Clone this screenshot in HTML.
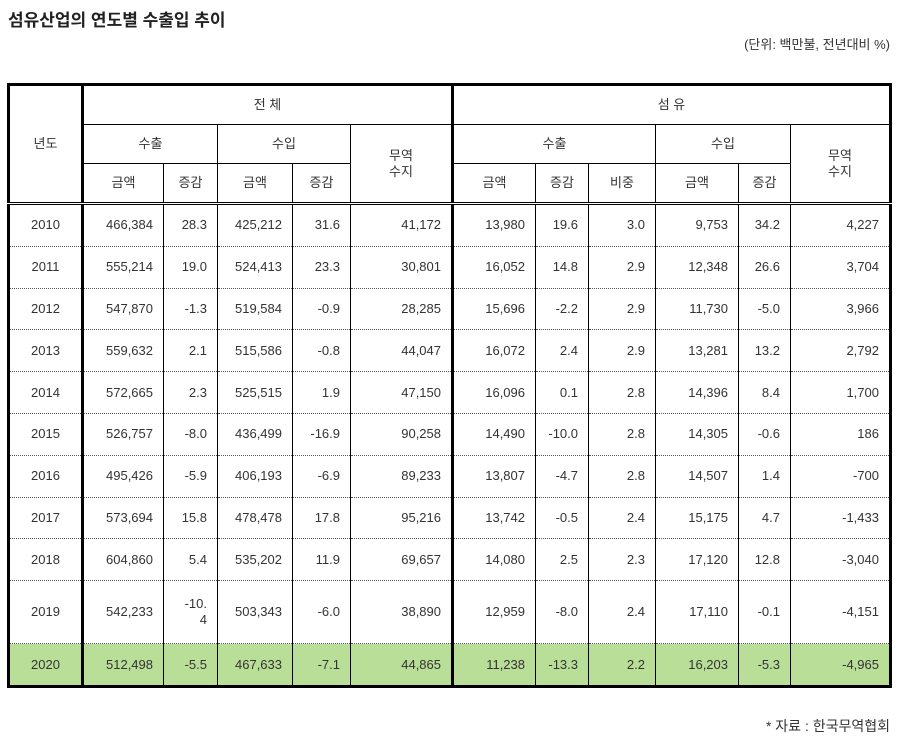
<!DOCTYPE html>
<html><head><meta charset="utf-8"><style>
body{margin:0;background:#fff;width:898px;height:741px;position:relative;font-family:"Liberation Sans","Noto Sans CJK KR",sans-serif;color:#333;}
.title{position:absolute;left:8px;top:6px;font-size:17px;font-weight:bold;color:#222;}
.unit{position:absolute;right:8px;top:34px;font-size:13px;}
.src{position:absolute;right:8px;top:716px;font-size:14px;}
table{position:absolute;left:7px;top:83px;border-collapse:collapse;table-layout:fixed;font-size:13px;}
td{border:1px solid #000;padding:0;text-align:center;line-height:16px;}
thead td{height:38px;}
tbody td{border-top:1px dotted #555;border-bottom:1px dotted #555;text-align:right;padding-right:10px;height:40.8px;}
tbody td.y{text-align:center;padding-right:0;}
tbody tr:first-child td{border-top:3px double #000;}
.g td{background:#b9de98;border-bottom:3px solid #000;height:41px;}
.tk{border-left:3px solid #000 !important;}
table{border:3px solid #000;}
</style></head><body>
<div class="title">섬유산업의 연도별 수출입 추이</div>
<div class="unit">(단위: 백만불, 전년대비 %)</div>
<table>
<colgroup><col style="width:74px"><col style="width:81px"><col style="width:54px"><col style="width:75px"><col style="width:58px"><col style="width:102px"><col style="width:83px"><col style="width:53px"><col style="width:67px"><col style="width:83px"><col style="width:52px"><col style="width:100px"></colgroup>
<thead>
<tr><td rowspan="3">년도</td><td colspan="5" class="tk" style="height:38px">전 체</td><td colspan="6" class="tk">섬 유</td></tr>
<tr><td colspan="2" class="tk" style="height:37px">수출</td><td colspan="2">수입</td><td rowspan="2">무역<br>수지</td><td colspan="3" class="tk">수출</td><td colspan="2">수입</td><td rowspan="2">무역<br>수지</td></tr>
<tr><td class="tk" style="height:38px">금액</td><td>증감</td><td>금액</td><td>증감</td><td class="tk">금액</td><td>증감</td><td>비중</td><td>금액</td><td>증감</td></tr>
</thead>
<tbody>
<tr><td class="y">2010</td><td class="tk">466,384</td><td>28.3</td><td>425,212</td><td>31.6</td><td>41,172</td><td class="tk">13,980</td><td>19.6</td><td>3.0</td><td>9,753</td><td>34.2</td><td>4,227</td></tr>
<tr><td class="y">2011</td><td class="tk">555,214</td><td>19.0</td><td>524,413</td><td>23.3</td><td>30,801</td><td class="tk">16,052</td><td>14.8</td><td>2.9</td><td>12,348</td><td>26.6</td><td>3,704</td></tr>
<tr><td class="y">2012</td><td class="tk">547,870</td><td>-1.3</td><td>519,584</td><td>-0.9</td><td>28,285</td><td class="tk">15,696</td><td>-2.2</td><td>2.9</td><td>11,730</td><td>-5.0</td><td>3,966</td></tr>
<tr><td class="y">2013</td><td class="tk">559,632</td><td>2.1</td><td>515,586</td><td>-0.8</td><td>44,047</td><td class="tk">16,072</td><td>2.4</td><td>2.9</td><td>13,281</td><td>13.2</td><td>2,792</td></tr>
<tr><td class="y">2014</td><td class="tk">572,665</td><td>2.3</td><td>525,515</td><td>1.9</td><td>47,150</td><td class="tk">16,096</td><td>0.1</td><td>2.8</td><td>14,396</td><td>8.4</td><td>1,700</td></tr>
<tr><td class="y">2015</td><td class="tk">526,757</td><td>-8.0</td><td>436,499</td><td>-16.9</td><td>90,258</td><td class="tk">14,490</td><td>-10.0</td><td>2.8</td><td>14,305</td><td>-0.6</td><td>186</td></tr>
<tr><td class="y">2016</td><td class="tk">495,426</td><td>-5.9</td><td>406,193</td><td>-6.9</td><td>89,233</td><td class="tk">13,807</td><td>-4.7</td><td>2.8</td><td>14,507</td><td>1.4</td><td>-700</td></tr>
<tr><td class="y">2017</td><td class="tk">573,694</td><td>15.8</td><td>478,478</td><td>17.8</td><td>95,216</td><td class="tk">13,742</td><td>-0.5</td><td>2.4</td><td>15,175</td><td>4.7</td><td>-1,433</td></tr>
<tr><td class="y">2018</td><td class="tk">604,860</td><td>5.4</td><td>535,202</td><td>11.9</td><td>69,657</td><td class="tk">14,080</td><td>2.5</td><td>2.3</td><td>17,120</td><td>12.8</td><td>-3,040</td></tr>
<tr><td class="y" style="height:62px">2019</td><td class="tk">542,233</td><td>-10.<br>4</td><td>503,343</td><td>-6.0</td><td>38,890</td><td class="tk">12,959</td><td>-8.0</td><td>2.4</td><td>17,110</td><td>-0.1</td><td>-4,151</td></tr>
<tr class="g"><td class="y">2020</td><td class="tk">512,498</td><td>-5.5</td><td>467,633</td><td>-7.1</td><td>44,865</td><td class="tk">11,238</td><td>-13.3</td><td>2.2</td><td>16,203</td><td>-5.3</td><td>-4,965</td></tr>
</tbody>
</table>
<div class="src">* 자료 : 한국무역협회</div>
</body></html>
